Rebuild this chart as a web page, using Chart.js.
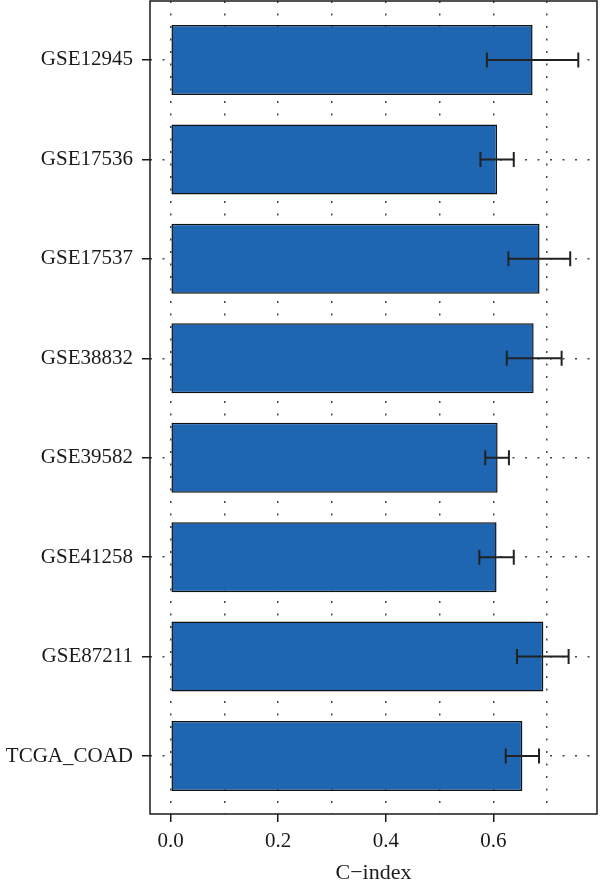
<!DOCTYPE html>
<html>
<head>
<meta charset="utf-8">
<script src="https://cdn.jsdelivr.net/npm/chart.js@4.4.1/dist/chart.umd.min.js"></script>
<style>
  html, body { margin: 0; padding: 0; background: #ffffff; }
  #wrap { width: 600px; height: 888px; position: relative; }
</style>
</head>
<body>
<div id="wrap"><canvas id="c" width="600" height="888"></canvas></div>
<script>
const categories = ['GSE12945', 'GSE17536', 'GSE17537', 'GSE38832', 'GSE39582', 'GSE41258', 'GSE87211', 'TCGA_COAD'];
const cIndex  = [0.673, 0.607, 0.686, 0.675, 0.608, 0.606, 0.693, 0.654];
const ciLower = [0.588, 0.576, 0.628, 0.625, 0.585, 0.574, 0.644, 0.623];
const ciUpper = [0.758, 0.638, 0.743, 0.727, 0.629, 0.638, 0.740, 0.685];
const xGridValues = [0, 0.1, 0.2, 0.3, 0.4, 0.5, 0.6, 0.7];
const xTickLabels = ['0.0', '0.2', '0.4', '0.6'];
const xTitle = 'C\u2212index';

const FONT = "'Liberation Serif', 'DejaVu Serif', serif";
const INK = '#1a1a1a';

function isLabeled(v) {
  return xTickLabels.indexOf(Number(v).toFixed(1)) >= 0;
}

const errorBars = {
  id: 'errorBars',
  afterDatasetsDraw(chart) {
    const ctx = chart.ctx;
    const xs = chart.scales.x, ys = chart.scales.y;
    ctx.save();
    ctx.strokeStyle = '#222';
    ctx.lineWidth = 2;
    for (let i = 0; i < categories.length; i++) {
      const y = ys.getPixelForValue(i);
      const x1 = xs.getPixelForValue(ciLower[i]);
      const x2 = xs.getPixelForValue(ciUpper[i]);
      ctx.beginPath();
      ctx.moveTo(x1, y); ctx.lineTo(x2, y);
      ctx.moveTo(x1, y - 7.5); ctx.lineTo(x1, y + 7.5);
      ctx.moveTo(x2, y - 7.5); ctx.lineTo(x2, y + 7.5);
      ctx.stroke();
    }
    ctx.restore();
  }
};

const frame = {
  id: 'frame',
  afterDraw(chart) {
    const a = chart.chartArea, ctx = chart.ctx;
    ctx.save();
    ctx.strokeStyle = INK;
    ctx.lineWidth = 1.5;
    ctx.strokeRect(a.left, a.top, a.right - a.left, a.bottom - a.top);
    ctx.restore();
  }
};

new Chart(document.getElementById('c'), {
  type: 'bar',
  data: {
    datasets: [{
      data: categories.map((c, i) => ({ x: cIndex[i], y: i })),
      backgroundColor: '#1e66b1',
      borderColor: '#111',
      borderWidth: 1.5,
      borderSkipped: false,
      categoryPercentage: 1,
      barPercentage: 0.704
    }]
  },
  plugins: [errorBars, frame],
  options: {
    indexAxis: 'y',
    responsive: false,
    animation: false,
    devicePixelRatio: 1,
    layout: { padding: { top: 1, right: 3, left: 0, bottom: 0 } },
    plugins: { legend: { display: false }, tooltip: { enabled: false } },
    scales: {
      x: {
        type: 'linear',
        min: -0.0385,
        max: 0.7928,
        offset: false,
        afterBuildTicks(scale) { scale.ticks = xGridValues.map(v => ({ value: v })); },
        afterFit(scale) { scale.height = 74; scale.paddingLeft = 0; scale.paddingRight = 0; },
        border: { display: false, dash: [2, 10.5] },
        grid: {
          offset: false,
          color: '#444',
          lineWidth: 1.5,
          tickLength: 8,
          tickWidth: 1.5,
          tickColor: (ctx) => (ctx.tick && isLabeled(ctx.tick.value)) ? INK : 'rgba(0,0,0,0)'
        },
        ticks: {
          padding: 7,
          color: INK,
          font: { family: FONT, size: 21 },
          maxRotation: 0,
          autoSkip: false,
          callback: (v) => isLabeled(v) ? Number(v).toFixed(1) : ''
        },
        title: {
          display: true,
          text: xTitle,
          color: INK,
          font: { family: FONT, size: 22 },
          padding: { top: 0, bottom: 2 }
        }
      },
      y: {
        type: 'linear',
        reverse: true,
        min: -0.593,
        max: 7.583,
        offset: false,
        afterBuildTicks(scale) { scale.ticks = categories.map((c, i) => ({ value: i })); },
        afterFit(scale) { scale.width = 150; scale.paddingTop = 0; scale.paddingBottom = 0; },
        border: { display: false, dash: [2, 10.5] },
        grid: {
          offset: false,
          color: '#444',
          lineWidth: 1.5,
          tickLength: 8,
          tickWidth: 1.5,
          tickColor: INK
        },
        ticks: {
          padding: 9,
          color: INK,
          font: { family: FONT, size: 21 },
          autoSkip: false,
          callback: (v) => categories[v] !== undefined ? categories[v] : ''
        }
      }
    }
  }
});
</script>
</body>
</html>
